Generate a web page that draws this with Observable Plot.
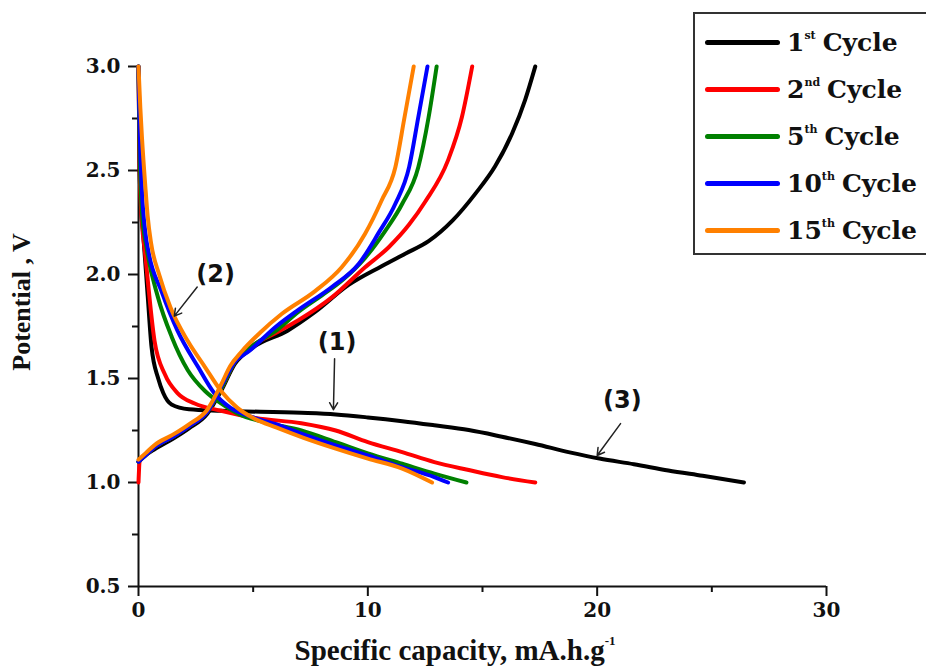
<!DOCTYPE html>
<html><head><meta charset="utf-8">
<script src="https://cdn.jsdelivr.net/npm/d3@7"></script>
<script src="https://cdn.jsdelivr.net/npm/@observablehq/plot@0.6"></script>
<style>
html,body{margin:0;padding:0;background:#fff;overflow:hidden}
#wrap{position:relative;width:926px;height:668px;overflow:hidden;background:#fff}
#legend{position:absolute;left:693px;top:12px;width:260px;height:243px;border:2px solid #333;box-sizing:border-box;background:#fff}
.row{position:absolute;left:10px;height:40px;display:flex;align-items:center;font:bold 25px "DejaVu Serif";color:#111;white-space:nowrap}
.row .sw{display:inline-block;width:75px;height:5px;border-radius:3px;margin-right:7px}
.row sup{font-size:11px;position:relative;top:-7px;margin-right:7px}
#xlab{position:absolute;left:455px;top:628px;transform:translateX(-50%);font:bold 29px "Liberation Serif";color:#111;white-space:nowrap;line-height:34px}
#xlab sup{font-size:13px;position:relative;top:-4px}
#ylab{position:absolute;left:22px;top:302px;transform:translate(-50%,-50%) rotate(-90deg);font:bold 26px "Liberation Serif";color:#111;white-space:nowrap}
</style></head>
<body><div id="wrap"></div>
<script>
const cycles = ["1st Cycle", "2nd Cycle", "5th Cycle", "10th Cycle", "15th Cycle"];
const colors = ["#000000", "#ff0000", "#008000", "#0000ff", "#ff8000"];
const xMajor = [0, 10, 20, 30];
const xMinor = [5, 15, 25];
const yMajor = [0.5, 1.0, 1.5, 2.0, 2.5, 3.0];
const yMinor = [0.75, 1.25, 1.75, 2.25, 2.75];

// [specific capacity (mA.h/g), potential (V)]
const discharge1 = [[0,3.0],[0.05,2.5],[0.12,2.3],[0.2,2.2],[0.4,1.9],[0.57,1.65],[0.86,1.50],[1.08,1.43],[1.44,1.375],[2.2,1.352],[3.6,1.345],[7.1,1.335],[8.6,1.327],[10,1.313],[11.5,1.295],[12.9,1.275],[14.4,1.252],[15.85,1.22],[17.3,1.185],[18.8,1.145],[20.1,1.115],[21.6,1.088],[23.1,1.058],[24.6,1.032],[26.4,1.0]];
const charge1 = [[0,1.10],[0.3,1.13],[0.7,1.16],[1.5,1.21],[2.2,1.26],[3.0,1.33],[3.6,1.44],[4.2,1.57],[5.0,1.65],[6.5,1.73],[7.7,1.82],[9.16,1.95],[10.6,2.04],[11.63,2.10],[12.65,2.16],[13.7,2.26],[14.7,2.39],[15.55,2.52],[16.3,2.68],[16.86,2.84],[17.3,3.0]];
const discharge2 = [[0,3.0],[0.05,2.5],[0.15,2.25],[0.28,2.11],[0.7,1.68],[1.15,1.52],[1.7,1.43],[2.45,1.38],[3.6,1.345],[5.1,1.31],[7.1,1.285],[8.6,1.25],[10,1.194],[11.5,1.146],[12.9,1.098],[14.4,1.06],[15.85,1.026],[17.3,1.0]];
const charge2 = [[0,1.0],[0.05,1.1],[0.3,1.13],[0.7,1.17],[1.5,1.22],[2.2,1.27],[3.0,1.34],[3.6,1.45],[4.2,1.58],[5.0,1.66],[6.0,1.72],[6.97,1.78],[8.43,1.89],[9.88,2.035],[10.9,2.13],[11.8,2.24],[12.5,2.35],[13.5,2.55],[14.1,2.756],[14.55,3.0]];
const discharge5 = [[0,3.0],[0.05,2.6],[0.15,2.3],[0.35,2.13],[0.85,1.89],[1.45,1.70],[2.15,1.54],[2.9,1.44],[3.6,1.38],[4.35,1.33],[5.5,1.29],[7.1,1.25],[8.6,1.194],[10,1.14],[11.5,1.09],[12.9,1.043],[14.3,1.0]];
const charge5 = [[0,1.1],[0.3,1.13],[0.7,1.17],[1.5,1.22],[2.2,1.27],[3.0,1.34],[3.6,1.45],[4.2,1.58],[5.0,1.66],[6.0,1.73],[6.97,1.82],[8.0,1.90],[8.86,1.97],[9.88,2.08],[10.76,2.21],[11.5,2.34],[12.2,2.516],[12.65,2.756],[13.0,3.0]];
const discharge10 = [[0,3.0],[0.05,2.7],[0.15,2.4],[0.3,2.2],[0.45,2.1],[1.0,1.92],[1.7,1.73],[2.6,1.555],[3.3,1.43],[4.0,1.36],[4.8,1.32],[6,1.28],[7.1,1.235],[8.6,1.178],[10,1.13],[11.5,1.074],[12.9,1.026],[13.5,1.0]];
const charge10 = [[0,1.1],[0.3,1.13],[0.7,1.17],[1.5,1.22],[2.2,1.27],[3.0,1.34],[3.6,1.46],[4.2,1.58],[4.8,1.63],[6.0,1.75],[6.97,1.83],[8.43,1.94],[9.6,2.05],[10.47,2.2],[11.2,2.34],[11.8,2.516],[12.2,2.756],[12.6,3.0]];
const discharge15 = [[0,3.0],[0.08,2.8],[0.15,2.66],[0.3,2.42],[0.4,2.28],[0.55,2.15],[0.9,2.0],[1.4,1.84],[2.15,1.68],[2.9,1.555],[3.6,1.44],[4.3,1.36],[5.0,1.31],[6,1.265],[7.2,1.215],[8.6,1.163],[10,1.115],[11.5,1.067],[12.8,1.0]];
const charge15 = [[0,1.11],[0.3,1.14],[0.7,1.18],[1.5,1.23],[2.2,1.28],[3.0,1.35],[3.6,1.47],[4.0,1.56],[4.5,1.63],[5.3,1.72],[6.24,1.81],[7.7,1.92],[8.86,2.035],[9.88,2.196],[10.6,2.356],[11.2,2.516],[11.6,2.756],[12.0,3.0]];

const curves = [
  [cycles[0], "discharge", discharge1], [cycles[0], "charge", charge1],
  [cycles[1], "discharge", discharge2], [cycles[1], "charge", charge2],
  [cycles[2], "discharge", discharge5], [cycles[2], "charge", charge5],
  [cycles[3], "discharge", discharge10], [cycles[3], "charge", charge10],
  [cycles[4], "discharge", discharge15], [cycles[4], "charge", charge15]
];

// annotation labels and arrows (data units)
const annoLabels = ["(1)", "(2)", "(3)"];
const annoText = [[8.66, 1.673], [3.36, 2.0], [21.1, 1.393]];
const annoArrow = [[8.55, 1.595, 8.50, 1.35], [2.56, 1.94, 1.56, 1.80], [21.02, 1.283, 20.0, 1.13]];

const pts = [];
curves.forEach(([cycle, seg, arr]) => arr.forEach(([x, y]) => pts.push({cycle, key: cycle + seg, x, y})));
const labels = annoLabels.map((t, i) => ({t, x: annoText[i][0], y: annoText[i][1]}));
const arrows = annoArrow.map(([x1, y1, x2, y2]) => ({x1, y1, x2, y2}));

const chart = Plot.plot({
  width: 926, height: 668,
  marginLeft: 138, marginRight: 100, marginTop: 66, marginBottom: 82,
  x: {domain: [0, 30]},
  y: {domain: [0.5, 3.0]},
  color: {domain: cycles, range: colors},
  style: {fontFamily: "DejaVu Serif", fontWeight: "bold", fontSize: "20px", color: "#111", background: "transparent", overflow: "visible"},
  marks: [
    Plot.axisX(xMinor, {tickSize: 6, tickFormat: () => "", label: null, strokeWidth: 2}),
    Plot.axisX(xMajor, {tickSize: 10, tickPadding: 6, tickFormat: d => String(d), label: null, strokeWidth: 2}),
    Plot.axisY(yMinor, {tickSize: 6, tickFormat: () => "", label: null, strokeWidth: 2}),
    Plot.axisY(yMajor, {tickSize: 10, tickPadding: 8, tickFormat: d3.format(".1f"), label: null, strokeWidth: 2}),
    Plot.ruleY([0.5], {strokeWidth: 2}),
    Plot.ruleX([0], {strokeWidth: 2}),
    Plot.line(pts, {x: "x", y: "y", z: "key", stroke: "cycle", strokeWidth: 4, curve: "monotone-x"}),
    Plot.arrow(arrows, {x1: "x1", y1: "y1", x2: "x2", y2: "y2", strokeWidth: 1.5, headLength: 8, stroke: "#222"}),
    Plot.text(labels, {x: "x", y: "y", text: "t", fontFamily: "DejaVu Sans", fontWeight: "bold", fontSize: 24, fill: "#111"})
  ]
});

const wrap = document.getElementById("wrap");
wrap.appendChild(chart);

const legend = document.createElement("div");
legend.id = "legend";
const ord = [["1", "st"], ["2", "nd"], ["5", "th"], ["10", "th"], ["15", "th"]];
cycles.forEach((c, i) => {
  const row = document.createElement("div");
  row.className = "row";
  row.style.top = (8 + i * 47) + "px";
  row.innerHTML = `<span class="sw" style="background:${colors[i]}"></span>${ord[i][0]}<sup>${ord[i][1]}</sup>Cycle`;
  legend.appendChild(row);
});
wrap.appendChild(legend);

const xlab = document.createElement("div");
xlab.id = "xlab";
xlab.innerHTML = "Specific capacity, mA.h.g<sup>-1</sup>";
wrap.appendChild(xlab);
const ylab = document.createElement("div");
ylab.id = "ylab";
ylab.textContent = "Potential , V";
wrap.appendChild(ylab);
</script></body></html>
